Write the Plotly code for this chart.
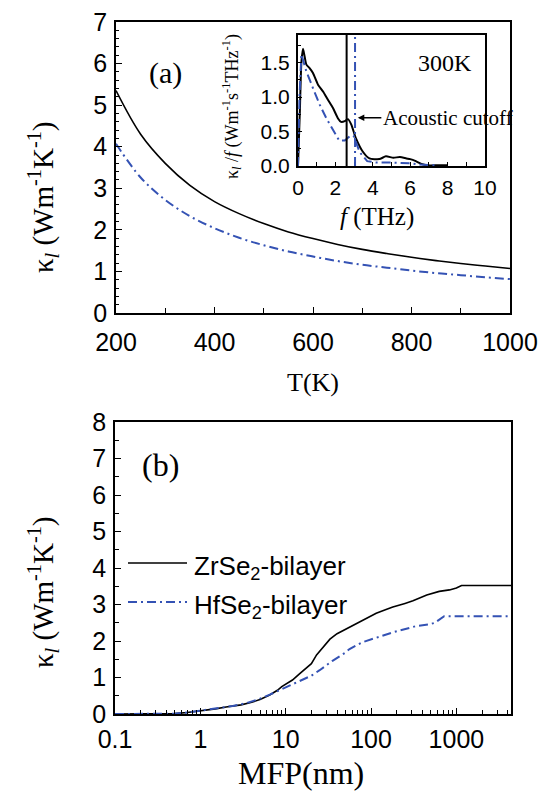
import plotly.graph_objects as go

# ---------------- data ----------------
# (a) lattice thermal conductivity vs temperature
T_K = [200, 250, 300, 350, 400, 450, 500, 550, 600, 650, 700, 750, 800, 850, 900, 950, 1000]
kappa_Zr_T = [5.35, 4.30, 3.60, 3.07, 2.68, 2.39, 2.15, 1.95, 1.79, 1.65, 1.53, 1.43, 1.34, 1.26, 1.19, 1.13, 1.07]
kappa_Hf_T = [4.07, 3.26, 2.72, 2.33, 2.04, 1.81, 1.63, 1.48, 1.36, 1.25, 1.16, 1.09, 1.02, 0.96, 0.91, 0.86, 0.815]

# inset: spectral kappa at 300K
f_Zr = [0, 0.1, 0.18, 0.27, 0.36, 0.45, 0.62, 0.8, 1.07, 1.34, 1.6, 1.87, 2.14, 2.3, 2.5, 2.67, 2.85,
        3.1, 3.46, 3.82, 4.35, 4.7, 5.1, 5.45, 5.8, 6.0, 6.3, 6.6, 6.9, 7.5, 8.0]
spec_Zr = [0, 0.8, 1.5, 1.70, 1.58, 1.47, 1.42, 1.35, 1.18, 1.08, 0.96, 0.84, 0.69, 0.64, 0.65, 0.68, 0.60,
           0.40, 0.21, 0.11, 0.10, 0.14, 0.12, 0.13, 0.11, 0.10, 0.07, 0.03, 0.01, 0.01, 0.01]
f_Hf = [0, 0.08, 0.18, 0.3, 0.45, 0.8, 1.16, 1.52, 1.87, 2.2, 2.5, 2.76, 2.97, 3.3, 3.7, 4.2, 5.0, 6.0, 6.5, 7.0, 7.5]
spec_Hf = [0, 1.0, 1.62, 1.5, 1.37, 1.13, 0.89, 0.69, 0.52, 0.37, 0.37, 0.43, 0.44, 0.2, 0.07, 0.05, 0.05, 0.04, 0.02, 0.01, 0.01]
cutoff_Zr = 2.6
cutoff_Hf = 3.05

# (b) cumulative kappa vs MFP
mfp_Zr = [0.1, 0.3, 0.5, 0.7, 1.0, 1.5, 2.0, 3.0, 4.0, 5.0, 6.5, 8, 9, 10, 12, 14.5, 17, 20, 23, 27, 33, 40, 50,
          60, 75, 90, 115, 150, 180, 250, 310, 450, 630, 830, 1000, 1150, 4500]
cum_Zr = [0, 0, 0.01, 0.04, 0.08, 0.14, 0.19, 0.25, 0.32, 0.40, 0.52, 0.65, 0.75, 0.82, 0.93, 1.10, 1.25, 1.38,
          1.62, 1.82, 2.05, 2.20, 2.32, 2.42, 2.55, 2.65, 2.76, 2.86, 2.93, 3.03, 3.10, 3.26, 3.36, 3.40, 3.45, 3.52, 3.52]
mfp_Hf = [0.1, 0.3, 0.5, 0.7, 1.0, 1.5, 2.4, 3.5, 5, 6.5, 8.4, 10, 14.5, 20, 25, 35, 50, 56, 80, 125, 182, 340,
          490, 560, 650, 720, 4500]
cum_Hf = [0, 0, 0.01, 0.04, 0.09, 0.16, 0.22, 0.30, 0.42, 0.53, 0.66, 0.73, 0.90, 1.05, 1.20, 1.45, 1.68, 1.78,
          1.97, 2.12, 2.24, 2.41, 2.46, 2.50, 2.60, 2.68, 2.68]

labels = ["ZrSe<sub>2</sub>-bilayer", "HfSe<sub>2</sub>-bilayer"]
log_tickvals = [0.1, 1, 10, 100, 1000]
log_ticktext = ["0.1", "1", "10", "100", "1000"]

# ---------------- styling ----------------
W, H = 542, 791
BLUE = "#3452b4"
DASH = "9px,4px,2px,4px"
SANS = "Liberation Sans, Arial, sans-serif"
SERIF = "Liberation Serif, Times New Roman, serif"


def px(x):
    return x / W


def py(y):
    return 1 - y / H


fig = go.Figure()

# panel (a)
fig.add_trace(go.Scatter(x=T_K, y=kappa_Zr_T, mode="lines", line=dict(color="black", width=1.6, shape="spline"),
                         xaxis="x", yaxis="y", showlegend=False))
fig.add_trace(go.Scatter(x=T_K, y=kappa_Hf_T, mode="lines", line=dict(color=BLUE, width=2, dash=DASH, shape="spline"),
                         xaxis="x", yaxis="y", showlegend=False))
# inset
fig.add_trace(go.Scatter(x=f_Zr, y=spec_Zr, mode="lines", line=dict(color="black", width=2, shape="spline", smoothing=0.6),
                         xaxis="x3", yaxis="y3", showlegend=False))
fig.add_trace(go.Scatter(x=f_Hf, y=spec_Hf, mode="lines", line=dict(color=BLUE, width=2, dash=DASH),
                         xaxis="x3", yaxis="y3", showlegend=False))
# panel (b)
fig.add_trace(go.Scatter(x=mfp_Zr, y=cum_Zr, mode="lines", line=dict(color="black", width=1.6),
                         xaxis="x2", yaxis="y2", name=labels[0], showlegend=False))
fig.add_trace(go.Scatter(x=mfp_Hf, y=cum_Hf, mode="lines", line=dict(color=BLUE, width=2, dash=DASH),
                         xaxis="x2", yaxis="y2", name=labels[1], showlegend=False))

# cutoff vertical lines in inset
fig.add_shape(type="line", xref="x3", yref="y3 domain", x0=cutoff_Zr, x1=cutoff_Zr, y0=0, y1=1,
              line=dict(color="black", width=2))
fig.add_shape(type="line", xref="x3", yref="y3 domain", x0=cutoff_Hf, x1=cutoff_Hf, y0=0, y1=1,
              line=dict(color=BLUE, width=2, dash=DASH))

# legend for (b), drawn manually
for i, (col, dash, yy) in enumerate([("black", "solid", 563), (BLUE, DASH, 602)]):
    fig.add_shape(type="line", xref="paper", yref="paper", x0=px(128), x1=px(187), y0=py(yy), y1=py(yy),
                  line=dict(color=col, width=1.6 if i == 0 else 2, dash=dash))
    fig.add_annotation(xref="paper", yref="paper", x=px(192), y=py(yy + 4), text=labels[i], showarrow=False,
                       xanchor="left", yanchor="middle", font=dict(family=SANS, size=26, color="black"))

ax_common = dict(showline=True, linecolor="black", linewidth=1.6, mirror=True, ticks="inside",
                 tickcolor="black", tickwidth=1.3, showgrid=False, zeroline=False, automargin=False,
                 tickfont=dict(family=SANS, size=25, color="black"))

fig.update_layout(
    width=W, height=H, margin=dict(l=0, r=0, t=0, b=0, autoexpand=False),
    paper_bgcolor="white", plot_bgcolor="rgba(0,0,0,0)",
    xaxis=dict(ax_common, domain=[px(116), px(510)], range=[200, 1000], anchor="y",
               tickvals=[200, 400, 600, 800, 1000], ticklen=6, ticklabelstandoff=6,
               minor=dict(ticks="inside", dtick=100, ticklen=5, tickcolor="black", showgrid=False)),
    yaxis=dict(ax_common, domain=[py(313), py(22)], range=[0, 7], anchor="x", dtick=1, ticklen=6,
               ticklabelstandoff=2,
               minor=dict(ticks="inside", dtick=0.2, ticklen=3, tickcolor="black", showgrid=False)),
    xaxis2=dict(ax_common, type="log", domain=[px(115), px(511)], range=[-1, 3.64], anchor="y2",
                tickmode="array", tickvals=log_tickvals, ticktext=log_ticktext, ticklen=6, ticklabelstandoff=2,
                minor=dict(ticks="inside", dtick="D1", ticklen=4, tickcolor="black", showgrid=False)),
    yaxis2=dict(ax_common, domain=[py(714), py(422)], range=[0, 8], anchor="x2", dtick=1, ticklen=6,
                ticklabelstandoff=2,
                minor=dict(ticks="inside", dtick=0.5, ticklen=4, tickcolor="black", showgrid=False)),
    xaxis3=dict(ax_common, domain=[px(298), px(485)], range=[0, 10], anchor="y3", dtick=2, linewidth=2.2,
                ticklen=4, tickfont=dict(family=SANS, size=21, color="black"), ticklabelstandoff=2,
                minor=dict(ticks="inside", dtick=1, ticklen=4, tickcolor="black", showgrid=False)),
    yaxis3=dict(ax_common, domain=[py(166), py(35)], range=[0, 1.9], anchor="x3", dtick=0.5, linewidth=2.2,
                tickformat=".1f", ticklen=4, tickfont=dict(family=SANS, size=21, color="black"),
                ticklabelstandoff=2,
                minor=dict(ticks="inside", dtick=0.25, ticklen=3, tickcolor="black", showgrid=False)),
)

def ann(x, y, text, size, family=SERIF, angle=0, **kw):
    fig.add_annotation(xref="paper", yref="paper", x=px(x), y=py(y), text=text, showarrow=False,
                       textangle=angle, font=dict(family=family, size=size, color="black"),
                       xanchor="center", yanchor="middle", **kw)

ylab = "κ<sub><i>l</i></sub> (Wm<sup>-1</sup>K<sup>-1</sup>)"
ann(43, 197, ylab, 29, angle=-90)
ann(43, 592, ylab, 29, angle=-90)
ann(313, 382, "T(K)", 26)
ann(301, 773, "MFP(nm)", 32)
ann(165, 73, "(a)", 30)
ann(161, 465, "(b)", 32)
ann(445, 63, "300K", 24)
ann(377, 217, "<i>f</i> (THz)", 25)
ann(232, 107, "κ<sub><i>l</i></sub> /<i>f</i> (Wm<sup>-1</sup>s<sup>-1</sup>THz<sup>-1</sup>)", 18, angle=-90)

# acoustic cutoff arrow
fig.add_annotation(xref="x3", yref="y3", x=3.2, y=0.70, text="Acoustic cutoff", showarrow=True,
                   arrowhead=2, arrowsize=1, arrowwidth=1.3, arrowcolor="black", ax=90, ay=0,
                   font=dict(family=SERIF, size=21, color="black"))

fig.write_html("out.html", config={"responsive": False, "displayModeBar": False},
               post_script="document.body.style.margin='0';document.body.style.padding='0';")
